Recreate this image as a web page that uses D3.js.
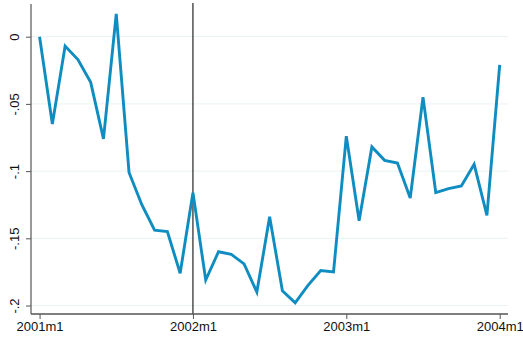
<!DOCTYPE html>
<html>
<head>
<meta charset="utf-8">
<script src="https://cdn.jsdelivr.net/npm/d3@7/dist/d3.min.js"></script>
<style>
  html, body { margin: 0; padding: 0; background: #fff; }
  svg { display: block; }
  text { font-family: "Liberation Sans", Arial, Helvetica, sans-serif; }
</style>
</head>
<body>
<svg id="chart" width="523" height="339"></svg>
<script>
// Monthly series, 2001m1 .. 2004m1 (month index 0 = 2001m1)
const months = d3.range(0, 37);
const values = [
  0.000, -0.065, -0.007, -0.017, -0.034, -0.076, 0.017, -0.101, -0.125, -0.144,
  -0.145, -0.176, -0.116, -0.181, -0.160, -0.162, -0.169, -0.190, -0.134, -0.189,
  -0.198, -0.185, -0.174, -0.175, -0.074, -0.137, -0.082, -0.092, -0.094, -0.120,
  -0.045, -0.116, -0.113, -0.111, -0.095, -0.133, -0.021
];
const xTicks = [0, 12, 24, 36];
const xTickLabels = ["2001m1", "2002m1", "2003m1", "2004m1"];
const yTicks = [0, -0.05, -0.1, -0.15, -0.2];
const yTickLabels = ["0", "-.05", "-.1", "-.15", "-.2"];
const markerMonth = 12;

const svg = d3.select("#chart");
const plotLeft = 31, plotRight = 508, plotTop = 4, plotBottom = 314;

const x = d3.scaleLinear().domain([-0.67, 36.65]).range([plotLeft, plotRight]);
const y = d3.scaleLinear().domain([-0.2063, 0.0243]).range([plotBottom, plotTop]);

// horizontal grid
svg.append("g")
  .selectAll("line")
  .data(yTicks)
  .join("line")
  .attr("x1", plotLeft).attr("x2", plotRight)
  .attr("y1", d => y(d)).attr("y2", d => y(d))
  .attr("stroke", "#eaf2f3").attr("stroke-width", 1);

// reference line at 2002m1
svg.append("line")
  .attr("x1", x(markerMonth)).attr("x2", x(markerMonth))
  .attr("y1", plotTop - 1).attr("y2", plotBottom)
  .attr("stroke", "#111").attr("stroke-width", 1.1);

// series
svg.append("path")
  .datum(months.map((m, i) => [m, values[i]]))
  .attr("fill", "none")
  .attr("stroke", "#0f8dc0")
  .attr("stroke-width", 2.9)
  .attr("stroke-linejoin", "miter")
  .attr("d", d3.line().x(d => x(d[0])).y(d => y(d[1])));

// y axis
const yAxis = svg.append("g")
  .attr("transform", `translate(${plotLeft},0)`)
  .call(d3.axisLeft(y).tickValues(yTicks).tickSize(5).tickPadding(4)
    .tickFormat((d, i) => yTickLabels[i]));
yAxis.select(".domain").attr("d", `M0,${plotTop}V${plotBottom}`).attr("stroke", "#555").attr("stroke-width", 1.2);
yAxis.selectAll(".tick line").attr("stroke", "#555");
yAxis.selectAll(".tick text")
  .attr("font-size", 13).attr("fill", "#111")
  .attr("text-anchor", "middle")
  .attr("x", 0).attr("y", 0)
  .attr("dy", "0.35em")
  .attr("transform", "translate(-17,0) rotate(-90)");

// x axis
const xAxis = svg.append("g")
  .attr("transform", `translate(0,${plotBottom})`)
  .call(d3.axisBottom(x).tickValues(xTicks).tickSize(5).tickPadding(3)
    .tickFormat((d, i) => xTickLabels[i]));
xAxis.select(".domain").attr("d", `M${plotLeft},0H${plotRight}`).attr("stroke", "#555").attr("stroke-width", 1.5);
xAxis.selectAll(".tick line").attr("stroke", "#555");
xAxis.selectAll(".tick text").attr("font-size", 13).attr("fill", "#111");
</script>
</body>
</html>
